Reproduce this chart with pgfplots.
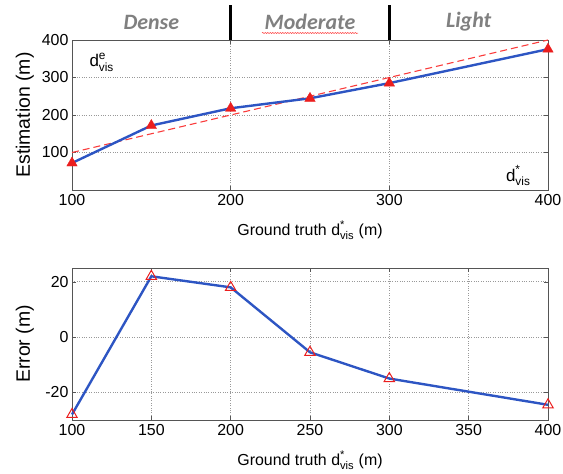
\documentclass[border=0pt]{standalone}
\usepackage{pgfplots}
\pgfplotsset{compat=1.18}
\usepackage{amsmath}
\usepackage{fontspec}
\setmainfont{Liberation Sans}
\newfontfamily\catfont{Carlito}
\usetikzlibrary{decorations.pathmorphing}
\definecolor{lineblue}{RGB}{45,85,195}
\definecolor{markred}{RGB}{235,30,30}
\definecolor{dashred}{RGB}{250,60,60}
\definecolor{catgray}{RGB}{128,128,128}
\definecolor{axgray}{RGB}{85,85,85}
\pgfplotsset{
  common/.style={
    scale only axis,
    width=476bp,
    xmin=100, xmax=400,
    axis line style={axgray, line width=0.8pt},
    tick style={axgray, line width=0.6pt},
    tick align=inside,
    xtick pos=both, ytick pos=both,
    major tick length=4bp,
    grid=major,
    major grid style={gray!80, dotted, line width=0.8pt},
    /pgf/number format/assume math mode=true,
    /pgf/number format/set thousands separator={},
    tick label style={font=\fontsize{16}{18}\selectfont},
    xticklabel style={yshift=-1bp},
    label style={font=\fontsize{16}{18}\selectfont},
    xlabel={Ground truth $\text{d}^{\text{*}}_{\text{vis}}$ (m)},
    xlabel style={yshift=-8bp},
    clip=false,
  }
}
\begin{document}
\begin{tikzpicture}
\useasboundingbox (0,0) rectangle (563bp,-474bp);
% ---------- top axis ----------
\begin{axis}[common,
  at={(72bp,-190bp)}, anchor=south west,
  height=150bp,
  ymin=0, ymax=400,
  xtick={100,200,300,400},
  ytick={100,200,300,400},
  ylabel={Estimation (m)},
  ylabel style={font=\fontsize{19.5}{22}\selectfont, at={(axis description cs:-0.099,0.5)}, anchor=center},
]
\addplot[dashred, dashed, line width=1.1pt, dash pattern=on 7bp off 4bp] coordinates {(100,100) (400,400)};
\addplot[lineblue, line width=2.4pt, mark=triangle*, mark size=6bp,
  mark options={solid, fill=markred, draw=markred, line width=0.4pt}]
  coordinates {(100,72) (150,172) (200,218) (250,244.5) (300,285) (400,375.5)};
% category band labels
\draw[black, line width=3bp] (axis cs:200,400) -- ([yshift=35bp]axis cs:200,400);
\draw[black, line width=3bp] (axis cs:300,400) -- ([yshift=35bp]axis cs:300,400);
\node[catgray, font=\catfont\bfseries\itshape\fontsize{22}{24}\selectfont] at ([yshift=18bp]axis cs:150,400) {Dense};
\node[catgray, font=\catfont\bfseries\itshape\fontsize{22}{24}\selectfont] at ([yshift=18bp]axis cs:250,400) {Moderate};
\node[catgray, font=\catfont\bfseries\itshape\fontsize{22}{24}\selectfont] at ([yshift=18bp]axis cs:350,400) {Light};
\draw[red!80, line width=0.5pt, decorate, decoration={snake, segment length=2.5bp, amplitude=0.6bp}]
  ([yshift=7bp,xshift=-48bp]axis cs:250,400) -- ([yshift=7bp,xshift=48bp]axis cs:250,400);
\node[anchor=west, font=\fontsize{17}{19}\selectfont] at ([xshift=14bp,yshift=-22bp]axis cs:100,400) {$\text{d}^{\text{e}}_{\text{vis}}$};
\node[anchor=south east, font=\fontsize{17}{19}\selectfont] at ([xshift=-14bp,yshift=1bp]axis cs:400,0) {$\text{d}^{\text{*}}_{\text{vis}}$};
\end{axis}
% ---------- bottom axis ----------
\begin{axis}[common,
  at={(72bp,-420bp)}, anchor=south west,
  height=152bp,
  ymin=-30, ymax=25,
  xtick={100,150,200,250,300,350,400},
  ytick={-20,0,20},
  ylabel={Error (m)},
  ylabel style={font=\fontsize{19.5}{22}\selectfont, at={(axis description cs:-0.099,0.5)}, anchor=center},
]
\addplot[lineblue, line width=2.4pt, mark=triangle, mark size=6bp,
  mark options={solid, draw=markred, line width=1pt}]
  coordinates {(100,-28) (150,22) (200,18) (250,-5.5) (300,-15) (400,-24.5)};
\end{axis}
\end{tikzpicture}
\end{document}
